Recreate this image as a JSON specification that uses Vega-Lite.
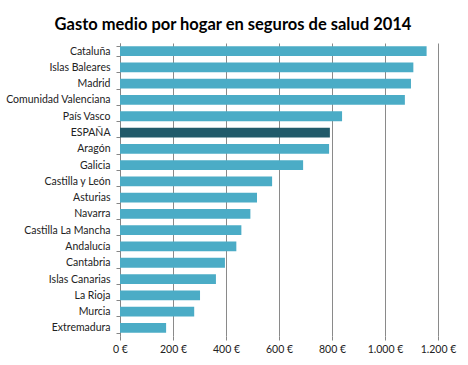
{
  "$schema": "https://vega.github.io/schema/vega-lite/v6.json",
  "autosize": "none",
  "width": 318,
  "height": 293,
  "padding": {"left": 120, "top": 43, "right": 30, "bottom": 29},
  "background": "white",
  "title": {
    "text": "Gasto medio por hogar en seguros de salud 2014",
    "font": "Lato",
    "fontSize": 16.5,
    "fontWeight": "bold",
    "color": "#000000",
    "anchor": "middle",
    "frame": "group",
    "dx": -46,
    "offset": 5
  },
  "data": {
    "values": [
      {"region": "Cataluña", "gasto": 1157},
      {"region": "Islas Baleares", "gasto": 1107},
      {"region": "Madrid", "gasto": 1098},
      {"region": "Comunidad Valenciana", "gasto": 1075},
      {"region": "País Vasco", "gasto": 838},
      {"region": "ESPAÑA", "gasto": 792},
      {"region": "Aragón", "gasto": 789},
      {"region": "Galicia", "gasto": 691},
      {"region": "Castilla y León", "gasto": 574},
      {"region": "Asturias", "gasto": 517},
      {"region": "Navarra", "gasto": 492},
      {"region": "Castilla La Mancha", "gasto": 458},
      {"region": "Andalucía", "gasto": 439},
      {"region": "Cantabria", "gasto": 396},
      {"region": "Islas Canarias", "gasto": 362},
      {"region": "La Rioja", "gasto": 302},
      {"region": "Murcia", "gasto": 280},
      {"region": "Extremadura", "gasto": 174}
    ]
  },
  "mark": {"type": "bar"},
  "encoding": {
    "y": {
      "field": "region",
      "type": "nominal",
      "sort": null,
      "title": null,
      "scale": {"paddingInner": 0.4, "paddingOuter": 0.2},
      "axis": {
        "labelFont": "Lato",
        "labelFontSize": 10.5,
        "labelColor": "#222222",
        "labelPadding": 6,
        "domainColor": "#868686",
        "tickColor": "#868686",
        "tickSize": 4,
        "tickBand": "extent",
        "grid": false
      }
    },
    "x": {
      "field": "gasto",
      "type": "quantitative",
      "title": null,
      "scale": {"domain": [0, 1200], "nice": false},
      "axis": {
        "values": [0, 200, 400, 600, 800, 1000, 1200],
        "labelExpr": "replace(format(datum.value, ','), ',', '.') + ' €'",
        "labelFont": "Lato",
        "labelFontSize": 10.5,
        "labelColor": "#222222",
        "labelPadding": 4,
        "labelOverlap": false,
        "labelBound": false,
        "labelFlush": false,
        "grid": true,
        "gridColor": "#8a8a8a",
        "gridWidth": 1,
        "domain": false,
        "tickColor": "#868686",
        "tickSize": 4
      }
    },
    "color": {
      "condition": {"test": "datum.region === 'ESPAÑA'", "value": "#215A6A"},
      "value": "#4BACC6"
    }
  },
  "config": {"view": {"stroke": null}}
}
